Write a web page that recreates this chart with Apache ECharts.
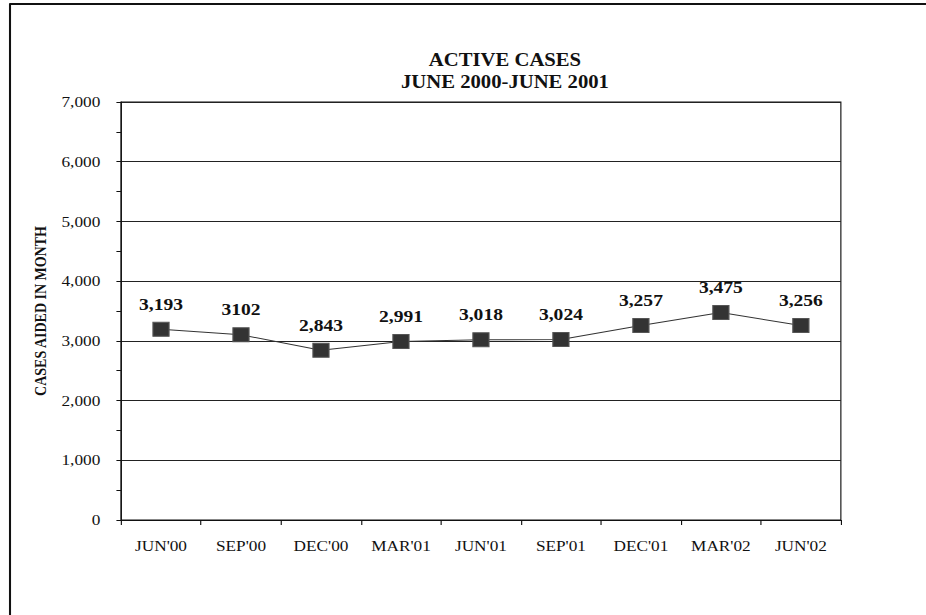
<!DOCTYPE html>
<html>
<head>
<meta charset="utf-8">
<script src="https://cdn.jsdelivr.net/npm/echarts@6/dist/echarts.min.js"></script>
<style>
html, body { margin: 0; padding: 0; background: #fff; overflow: hidden; }
/* the original picture is stretched sideways, so draw narrower and widen */
#chart { width: 805px; height: 615px; transform: scaleX(1.1503); transform-origin: 0 0; }
</style>
</head>
<body>
<div id="chart"></div>
<script>
// data
const categories = ["JUN'00", "SEP'00", "DEC'00", "MAR'01", "JUN'01", "SEP'01", "DEC'01", "MAR'02", "JUN'02"];
const values = [3193, 3102, 2843, 2991, 3018, 3024, 3257, 3475, 3256];
const valueLabels = ['3,193', '3102', '2,843', '2,991', '3,018', '3,024', '3,257', '3,475', '3,256'];
const titleLines = ['ACTIVE CASES', 'JUNE 2000-JUNE 2001'];
const yName = 'CASES AIDED IN MONTH';

const serif = '"Liberation Serif", "DejaVu Serif", serif';

const myChart = echarts.init(document.getElementById('chart'), null, { renderer: 'svg' });
const option = {
	backgroundColor: '#fff',
	animation: false,
	title: {
		text: titleLines.join('\n'),
		left: 439,
		top: 49,
		padding: 0,
		textAlign: 'center',
		textStyle: {
			fontFamily: serif,
			fontSize: 18,
			fontWeight: 'bold',
			color: '#111',
			lineHeight: 22
		}
	},
	grid: {
		left: 105.2,
		right: 74,
		top: 102,
		bottom: 95,
		show: true,
		borderColor: '#111',
		borderWidth: 1
	},
	xAxis: {
		type: 'category',
		data: categories,
		boundaryGap: true,
		axisLine: { lineStyle: { color: '#111', width: 1 } },
		axisTick: { show: true, length: 5, lineStyle: { color: '#111' } },
		axisLabel: {
			fontFamily: serif,
			fontSize: 15,
			color: '#111',
			margin: 18,
			interval: 0
		}
	},
	yAxis: {
		type: 'value',
		min: 0,
		max: 7000,
		interval: 1000,
		name: yName,
		nameLocation: 'middle',
		nameGap: 60,
		nameTextStyle: {
			fontFamily: serif,
			fontSize: 14,
			fontWeight: 'bold',
			color: '#111'
		},
		axisLine: { show: true, lineStyle: { color: '#111', width: 1 } },
		axisTick: { show: true, length: 4, lineStyle: { color: '#111' } },
		minorTick: { show: true, splitNumber: 2, length: 4, lineStyle: { color: '#111' } },
		axisLabel: {
			fontFamily: serif,
			fontSize: 15,
			color: '#111',
			margin: 18,
			formatter: function (v) {
				return v.toLocaleString('en-US');
			}
		},
		splitLine: { show: true, lineStyle: { color: '#222', width: 1 } }
	},
	series: [{
		type: 'line',
		data: values,
		symbol: 'rect',
		symbolSize: 14,
		itemStyle: { color: '#333', borderColor: '#555', borderWidth: 1 },
		lineStyle: { color: '#333', width: 1 },
		label: {
			show: true,
			position: 'top',
			distance: 9,
			fontFamily: serif,
			fontSize: 17,
			fontWeight: 'bold',
			color: '#111',
			formatter: function (p) {
				return valueLabels[p.dataIndex];
			}
		}
	}],
	graphic: [
		{ type: 'line', shape: { x1: 8.7, y1: 4, x2: 8.7, y2: 615 }, style: { stroke: '#111', lineWidth: 1.8 } },
		{ type: 'line', shape: { x1: 8, y1: 4, x2: 805, y2: 4 }, style: { stroke: '#111', lineWidth: 2 } }
	]
};
myChart.setOption(option);
</script>
</body>
</html>
